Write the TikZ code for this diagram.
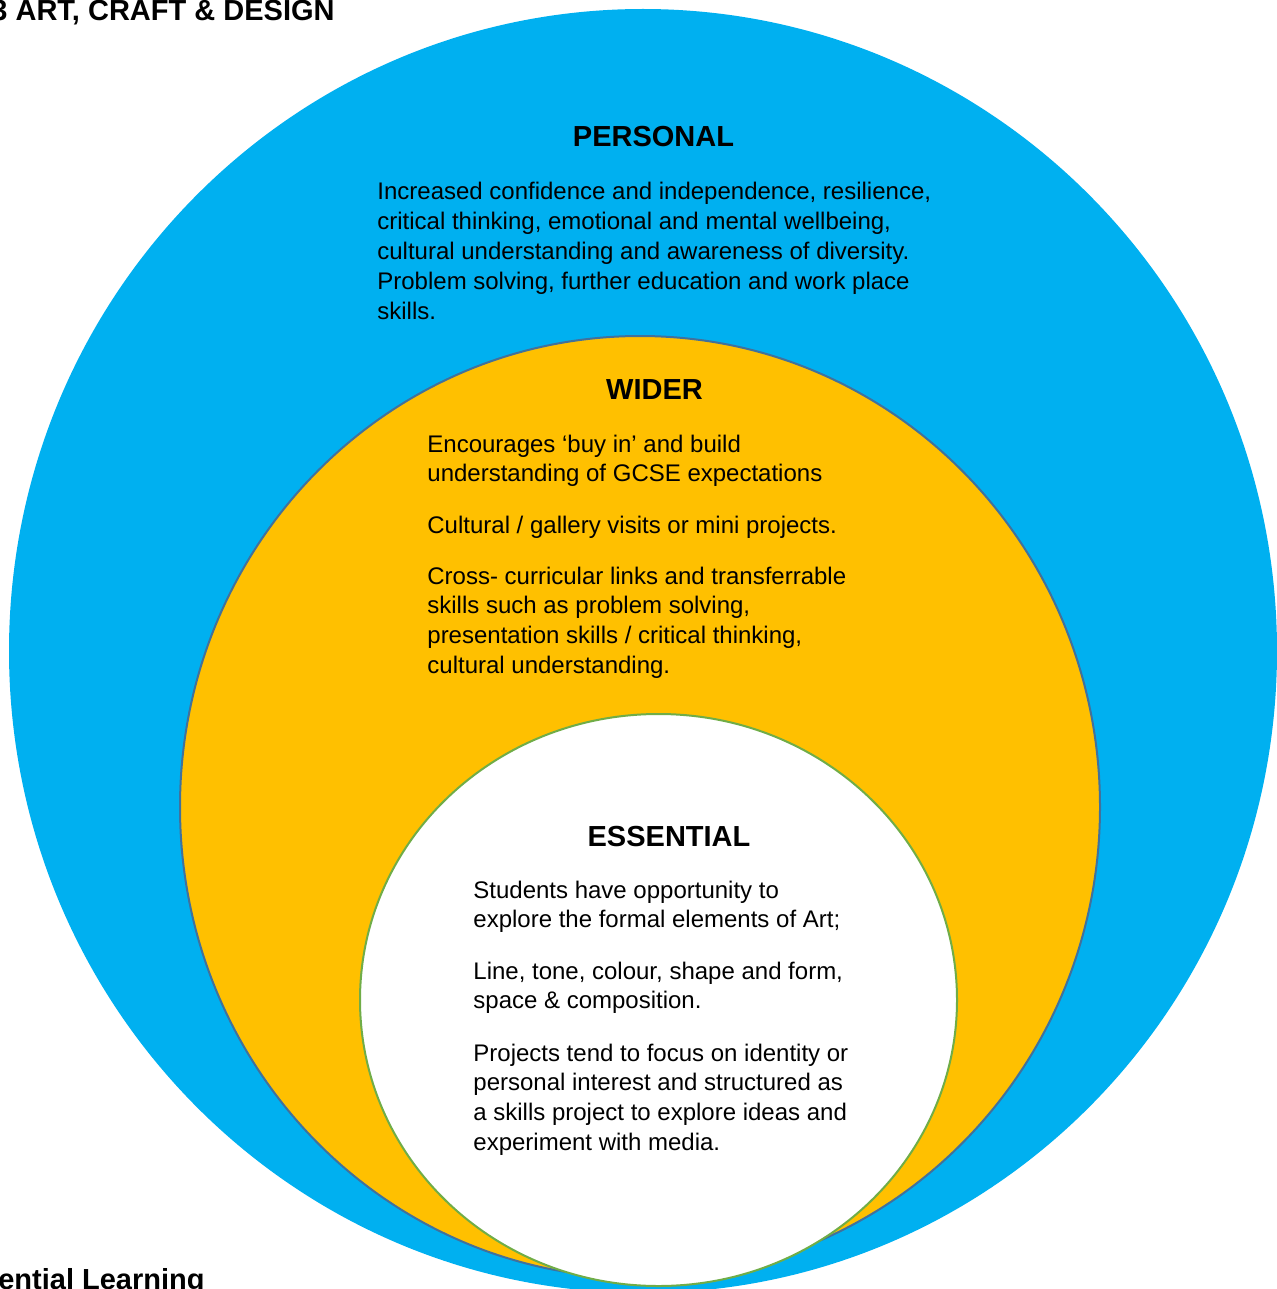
\documentclass[tikz,border=0pt]{standalone}
\usepackage{fontspec}
\setmainfont{Liberation Sans}
\definecolor{ringblue}{HTML}{00B0F0}
\definecolor{ringgold}{HTML}{FFC000}
\definecolor{ringedge}{HTML}{41719C}
\definecolor{ringgreen}{HTML}{70AD47}
\tikzset{
  textnode/.style = {inner sep=0pt, text=black,
    font=\fontsize{12}{14}\selectfont},
  ttl_b/.style = {textnode, anchor=base,
    font=\fontsize{14.5}{17}\selectfont\bfseries},% titre, gras
  txt_l/.style = {textnode, anchor=base west},% ligne de texte
  ring_p/.style = {fill=ringblue},% personal
  ring_w/.style = {fill=ringgold, draw=ringedge, line width=1pt},% wider
  ring_e/.style = {fill=white, draw=ringgreen, line width=1pt}% essential
}
\begin{document}
\begin{tikzpicture}[x=0.5pt,y=-0.5pt]
  \useasboundingbox (0,0) rectangle (1277,1289);
  \clip (0,0) rectangle (1277,1289);

  \fill [ring_p] (643,651) ellipse [x radius=634, y radius=642];
  \filldraw [ring_w] (640,807) ellipse [x radius=460, y radius=471];
  \filldraw [ring_e] (658.5,1000) ellipse [x radius=298.5, y radius=286];

  \node [ttl_b, anchor=base east] (hdr) at (335,21) {KS3 ART, CRAFT \& DESIGN};
  \node [ttl_b, anchor=base east] (ftr) at (205,1289) {Essential Learning};

  \node [ttl_b] (tp) at (653.5,147) {PERSONAL};
  \node [ttl_b] (tw) at (654.5,399) {WIDER};
  \node [ttl_b] (te) at (669,846) {ESSENTIAL};

  \foreach \t [count=\i from 0] in {{Increased confidence and independence, resilience,},
      {critical thinking, emotional and mental wellbeing,},
      {cultural understanding and awareness of diversity.},
      {Problem solving, further education and work place},
      {skills.}}
    \node [txt_l] (p\i) at (377,200+29.75*\i) {\t};

  \foreach \t [count=\i from 0] in {{Encourages ‘buy in’ and build},
      {understanding of GCSE expectations}}
    \node [txt_l] (wa\i) at (427,452+29.75*\i) {\t};
  \node [txt_l] (wb0) at (427,533) {Cultural / gallery visits or mini projects.};
  \foreach \t [count=\i from 0] in {{Cross- curricular links and transferrable},
      {skills such as problem solving,},
      {presentation skills / critical thinking,},
      {cultural understanding.}}
    \node [txt_l] (wc\i) at (427,584+29.75*\i) {\t};

  \foreach \t [count=\i from 0] in {{Students have opportunity to},
      {explore the formal elements of Art;}}
    \node [txt_l] (ea\i) at (473,898+29.75*\i) {\t};
  \foreach \t [count=\i from 0] in {{Line, tone, colour, shape and form,},
      {space \& composition.}}
    \node [txt_l] (eb\i) at (473,979+29.75*\i) {\t};
  \foreach \t [count=\i from 0] in {{Projects tend to focus on identity or},
      {personal interest and structured as},
      {a skills project to explore ideas and},
      {experiment with media.}}
    \node [txt_l] (ec\i) at (473,1061+29.75*\i) {\t};
\end{tikzpicture}
\end{document}
